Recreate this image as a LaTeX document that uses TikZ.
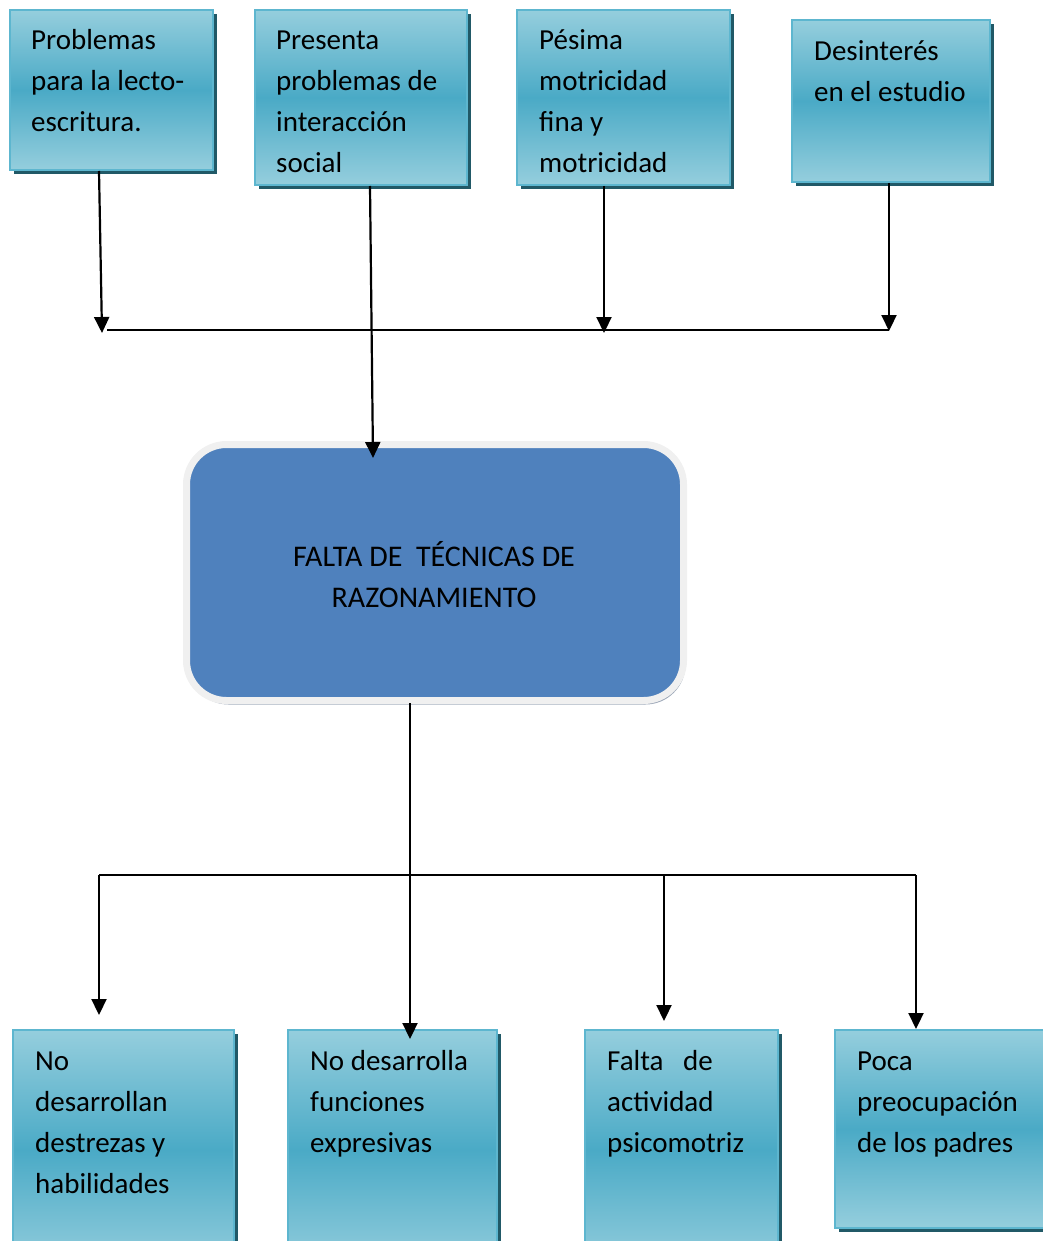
\documentclass[tikz,border=0pt]{standalone}
\usepackage{fontspec}
\setmainfont{Carlito}
\usetikzlibrary{shadows,arrows.meta,calc}
\definecolor{cyTop}{HTML}{95CEDD}
\definecolor{cyMid}{HTML}{4AAAC6}
\definecolor{cyBorder}{HTML}{5DB6CF}
\definecolor{cyShadow}{HTML}{215967}
\definecolor{mainBlue}{HTML}{4F81BD}
\definecolor{mainRim}{HTML}{F0F0F0}
\definecolor{mainShadow}{HTML}{9DA8B8}
\tikzset{
  cbox/.style={rectangle, inner sep=0pt, draw=cyBorder, line width=2pt,
    top color=cyTop, bottom color=cyTop, middle color=cyMid,
    drop shadow={fill=cyShadow, opacity=1, shadow xshift=4pt, shadow yshift=-4pt}},
  btext/.style={anchor=base west, inner sep=0pt, align=left,
    font=\fontsize{29}{41}\selectfont, text=black},
  mainbox/.style={rectangle, rounded corners=40pt, inner sep=0pt, fill=mainBlue,
    draw=mainRim, line width=7pt, align=center,
    font=\fontsize{30}{41}\selectfont,
    drop shadow={fill=mainShadow, opacity=1, shadow xshift=2pt, shadow yshift=-4pt}},
  conn/.style={draw=black, line width=2.2pt},
  arr/.style={conn, -{Triangle[length=16pt,width=15pt]}},
}
\begin{document}
\begin{tikzpicture}[x=1pt,y=-1pt]
\useasboundingbox (0,0) rectangle (1043,1241);
% top boxes
\node[cbox, minimum width=203pt, minimum height=160pt] (t1) at (111.5,90) {};
\node[cbox, minimum width=212pt, minimum height=175pt] (t2) at (361,97.5) {};
\node[cbox, minimum width=213pt, minimum height=175pt] (t3) at (623.5,97.5) {};
\node[cbox, minimum width=198pt, minimum height=162pt] (t4) at (891,101) {};
% (base anchor = baseline of the last line)
\node[btext] (t1t) at (31,132) {Problemas\\para la lecto-\\escritura.};
\node[btext] (t2t) at (276,173) {Presenta\\problemas de\\interacción\\social};
\node[btext] (t3t) at (539,173) {Pésima\\motricidad\\fina y\\motricidad};
\node[btext] (t4t) at (814,102) {Desinterés\\en el estudio};
% main box
\node[mainbox, minimum width=497pt, minimum height=256pt] (c) at (435,572.5) {};
\node[btext, font=\fontsize{30}{41}\selectfont, align=center, anchor=base] (ct) at (434,607)
  {FALTA DE\ \ TÉCNICAS DE\\RAZONAMIENTO};
% bottom boxes
\node[cbox, minimum width=221pt, minimum height=240pt] (b1) at (123.5,1150) {};
\node[cbox, minimum width=209pt, minimum height=240pt] (b2) at (392.5,1150) {};
\node[cbox, minimum width=193pt, minimum height=240pt] (b3) at (681.5,1150) {};
\node[cbox, minimum width=230pt, minimum height=198pt] (b4) at (950,1129) {};
\node[btext] (b1t) at (35,1193) {No\\desarrollan\\destrezas y\\habilidades};
\node[btext] (b2t) at (310,1152) {No desarrolla\\funciones\\expresivas};
\node[btext] (b3t) at (607,1152) {Falta\ \ \ de\\actividad\\psicomotriz};
\node[btext] (b4t) at (857,1152) {Poca\\preocupación\\de los padres};
% coordinates
\coordinate (j1) at (102,333);
\coordinate (h1) at (107,330);
\coordinate (h2) at (889,330);
\coordinate (j3) at (604,333);
\coordinate (j4) at (889,331);
\coordinate (m1) at (99,875);
\coordinate (m2) at (916,875);
\coordinate (m3) at (664,875);
\coordinate (k1) at (99,1015);
\coordinate (k3) at (664,1021);
% top connectors
\draw[arr] ([xshift=-12.5pt]t1.south) -- (j1);
\draw[conn] (h1) -- (h2);
\draw[arr] ([xshift=9pt]t2.south) -- ([xshift=-62pt,yshift=-17pt]c.north);
\draw[arr] ([xshift=-19.5pt]t3.south) -- (j3);
\draw[arr] ([xshift=-2pt]t4.south) -- (j4);
% bottom connectors
\draw[arr] ([xshift=-25pt,yshift=1pt]c.south) -- ([xshift=17.5pt,yshift=-10pt]b2.north);
\draw[conn] (m1) -- (m2);
\draw[arr] (m1) -- (k1);
\draw[arr] (m3) -- (k3);
\draw[arr] (m2) -- ([xshift=-34pt]b4.north);
\end{tikzpicture}
\end{document}
